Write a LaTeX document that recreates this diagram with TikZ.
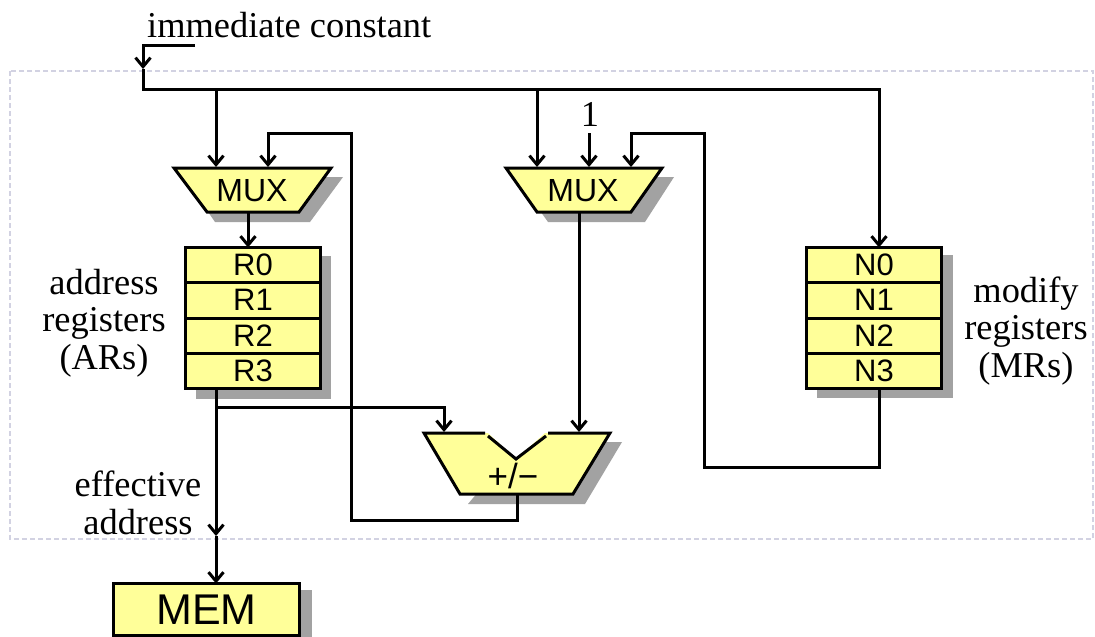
\documentclass[tikz,border=0pt]{standalone}
\usepackage{fontspec}
\setmainfont{Liberation Serif}
\setsansfont{Liberation Sans}
\usetikzlibrary{arrows.meta}
\definecolor{boxfill}{HTML}{FFFF99}
\definecolor{shade}{HTML}{A2A2A2}
\definecolor{framec}{HTML}{D2D2E2}
\tikzset{
  x=1pt,y=-1pt,
  conn/.style={-{Straight Barb[length=9pt,width=15pt]},line join=miter,line width=3pt},
  plainconn/.style={line width=3pt,line join=miter},
  shadowshape/.style={fill=shade,draw=none},
  boxshape/.style={fill=boxfill,draw=black,line width=3pt,line join=miter},
  serif/.style={font=\fontsize{36.4}{37.5}\selectfont,align=center,inner sep=0pt},
  sans/.style={font=\sffamily\fontsize{32}{34}\selectfont,inner sep=0pt},
  regcell/.style={boxshape,minimum width=135pt,inner sep=0pt,outer sep=0pt,anchor=north west,font=\sffamily\fontsize{31}{32}\selectfont},
}
\begin{document}
\begin{tikzpicture}
\useasboundingbox (0,0) rectangle (1095,637);
\fill[white] (0,0) rectangle (1095,637);
% frame
\draw[framec,line width=1.2pt,dash pattern=on 5pt off 3pt] (10,71) rectangle (1093,539);
% shadows
\fill[shadowshape] (184,177) -- (343,177) -- (310,222) -- (215,222) -- cycle;
\fill[shadowshape] (516,177) -- (674,177) -- (645,222) -- (548,222) -- cycle;
\fill[shadowshape] (196,256) rectangle (331,399);
\fill[shadowshape] (817,255) rectangle (953,398);
\fill[shadowshape] (468,504) -- (585,504) -- (622,442) -- (520,442) -- cycle;
\fill[shadowshape] (122,590) rectangle (312,637);
% mux 1
\draw[boxshape] (174,168) -- (331,168) -- (299,212) -- (207,212) -- cycle;
\node[sans] (mux1) at (252,191) {MUX};
% mux 2
\draw[boxshape] (506,168) -- (662,168) -- (631,212) -- (537,212) -- cycle;
\node[sans] (mux2) at (583,191) {MUX};
% AR
\node[regcell,minimum height=35pt] (r0) at (185.5,247.5) {R0};
\node[regcell,minimum height=35.5pt] (r1) at (185.5,282.5) {R1};
\node[regcell,minimum height=35pt] (r2) at (185.5,318) {R2};
\node[regcell,minimum height=35pt] (r3) at (185.5,353) {R3};
% MR
\node[regcell,minimum height=35pt] (n0) at (806.5,247.5) {N0};
\node[regcell,minimum height=35.5pt] (n1) at (806.5,282.5) {N1};
\node[regcell,minimum height=35pt] (n2) at (806.5,318) {N2};
\node[regcell,minimum height=35pt] (n3) at (806.5,353) {N3};
% adder
\fill[boxfill] (424,433) -- (610,433) -- (573,494) -- (460,494) -- cycle;
\draw[boxshape] (485,433) -- (424,433) -- (460,494) -- (573,494) -- (610,433) -- (548,433);
\fill[white] (486,431) -- (547,431) -- (516,459) -- cycle;
\draw[plainconn] (488,436) -- (516,459) -- (546,436);
\node[font=\sffamily\fontsize{35}{36}\selectfont,inner sep=0pt] (adder) at (513,476) {+/−};
% mem
\node[boxshape,minimum width=186pt,minimum height=52pt,inner sep=0pt,outer sep=0pt,anchor=north west,font=\sffamily\fontsize{43}{44}\selectfont] (mem) at (113.5,583.5) {MEM};
% labels
\node[serif,anchor=base west] (imm) at (147,37) {immediate constant};
\node[serif] (one) at (590,114) {1};
\node[serif] (arl) at (104,323) {address\\registers\\(ARs)};
\node[serif] (mrl) at (1026,331) {modify\\registers\\(MRs)};
\node[serif] (eff) at (138,503) {effective\\address};
% coordinates
\coordinate (a0) at (143,45);
\coordinate (a1) at (143,69);
\coordinate (a2) at (195,45);
\coordinate (b0) at (143,89);
\coordinate (c0) at (879,89);
\coordinate (m1a) at (216,167);
\coordinate (m1b) at (268,167);
\coordinate (m1o) at (248,212);
\coordinate (m2a) at (537,167);
\coordinate (m2s) at (589,133);
\coordinate (m2b) at (589,167);
\coordinate (m2c) at (631,167);
\coordinate (m2o) at (579,212);
\coordinate (ada) at (444,432);
\coordinate (adb) at (579,432);
\coordinate (ado) at (517,494);
% connectors
\draw[conn] (a2) -- (a0) -- (a1);
\draw[conn] (a1) -- (b0) -- (c0) -- (n0.north -| c0);
\draw[conn] (b0 -| m1a) -- (m1a);
\draw[conn] (b0 -| m2a) -- (m2a);
\draw[conn] (m2s) -- (m2b);
\draw[conn] (m1o) -- (r0.north -| m1o);
\draw[conn] (m2o) -- (adb);
\draw[conn] (ado) -- (517,520) -- (351,520) -- (351,133) -- (268,133) -- (m1b);
\draw[conn] (n3.south -| c0) -- (879,467) -- (704,467) -- (704,133) -- (631,133) -- (m2c);
\draw[conn] (r3.south -| m1a) -- (216,536);
\draw[conn] (216,536) -- (mem.north -| m1a);
\draw[conn] (216,407) -- (444,407) -- (ada);
\end{tikzpicture}
\end{document}
